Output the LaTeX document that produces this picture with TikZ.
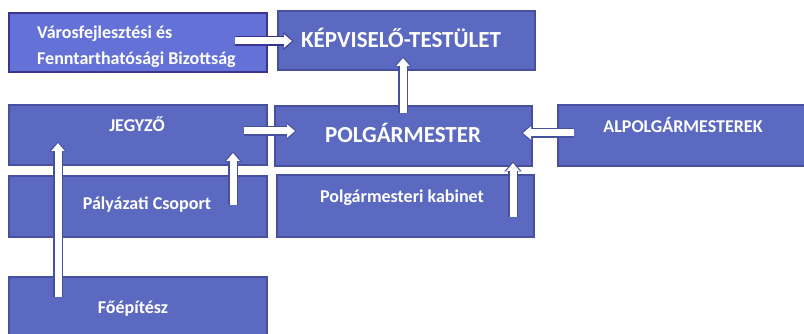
\documentclass[tikz,border=0pt]{standalone}
\usepackage{fontspec}
\setmainfont{Carlito}
\usetikzlibrary{arrows.meta}
\definecolor{boxfill}{HTML}{5B6AC0}
\definecolor{boxline}{HTML}{46509E}
\definecolor{vfill}{HTML}{6472D8}
\definecolor{vline}{HTML}{3A3590}
\begin{document}
\begin{tikzpicture}[x=1pt,y=-1pt,
  box/.style={draw=boxline, line width=1.5pt, fill=boxfill, inner sep=0pt, outer sep=0pt, anchor=north west},
  vbox/.style={box, draw=vline, line width=2.5pt, fill=vfill},
  lbl/.style={text=white, inner sep=0pt, anchor=base, font=\bfseries\fontsize{18}{22}\selectfont},
  big/.style={lbl, font=\bfseries\fontsize{23}{27}\selectfont},
  arr/.style={preaction={draw=#1, line width=9.5pt, -{Triangle[width=17pt,length=10pt]}, shorten >=-1.5pt},
              draw=white, line width=7pt, -{Triangle[width=13pt,length=8pt]}},
  arr/.default=boxline]
\useasboundingbox (0,0) rectangle (804,334);
\clip (0,0) rectangle (804,334);
\fill[white] (0,0) rectangle (804,334);
% boxes
\node[vbox, minimum width=258pt, minimum height=59pt] (vf) at (9,13) {};
\node[box, minimum width=257pt, minimum height=59pt] (kt) at (278,11) {};
\node[box, minimum width=258pt, minimum height=60pt] (jg) at (9,105) {};
\node[box, minimum width=257pt, minimum height=60pt] (pm) at (275,106) {};
\node[box, minimum width=252pt, minimum height=61pt] (al) at (558,105) {};
\node[box, minimum width=258pt, minimum height=61pt] (pc) at (9,176) {};
\node[box, minimum width=257pt, minimum height=62pt] (kb) at (277,175) {};
\node[box, minimum width=258pt, minimum height=62pt] (fe) at (9,277) {};
% labels
\node[lbl, anchor=base west] (vft1) at (37,39) {Városfejlesztési és};
\node[lbl, anchor=base west] (vft2) at (37,65) {Fenntarthatósági Bizottság};
\node[big] (ktt) at (401,48) {KÉPVISELŐ-TESTÜLET};
\node[big] (pmt) at (403,143) {POLGÁRMESTER};
\node[lbl] (jgt) at (137,132) {JEGYZŐ};
\node[lbl] (alt) at (683,133) {ALPOLGÁRMESTEREK};
\node[lbl] (pct) at (147,210) {Pályázati Csoport};
\node[lbl] (kbt) at (402,203) {Polgármesteri kabinet};
\node[lbl] (fet) at (133,313) {Főépítész};
% arrow end points
\coordinate (a1s) at (235,41);  \coordinate (a1e) at (292,41);
\coordinate (a2s) at (403,113); \coordinate (a2e) at (403,58);
\coordinate (a3s) at (244,131); \coordinate (a3e) at (295,131);
\coordinate (a4s) at (574,133); \coordinate (a4e) at (523,133);
\coordinate (a5s) at (233,205); \coordinate (a5e) at (233,153);
\coordinate (a6s) at (58,297);  \coordinate (a6e) at (58,143);
\coordinate (a7s) at (513,217); \coordinate (a7e) at (513,163);
% arrows
\draw[arr=vline] (a1s) -- (a1e);
\draw[arr] (a2s) -- (a2e);
\draw[arr] (a3s) -- (a3e);
\draw[arr] (a4s) -- (a4e);
\draw[arr] (a5s) -- (a5e);
\draw[arr] (a6s) -- (a6e);
\draw[arr] (a7s) -- (a7e);
\end{tikzpicture}
\end{document}
